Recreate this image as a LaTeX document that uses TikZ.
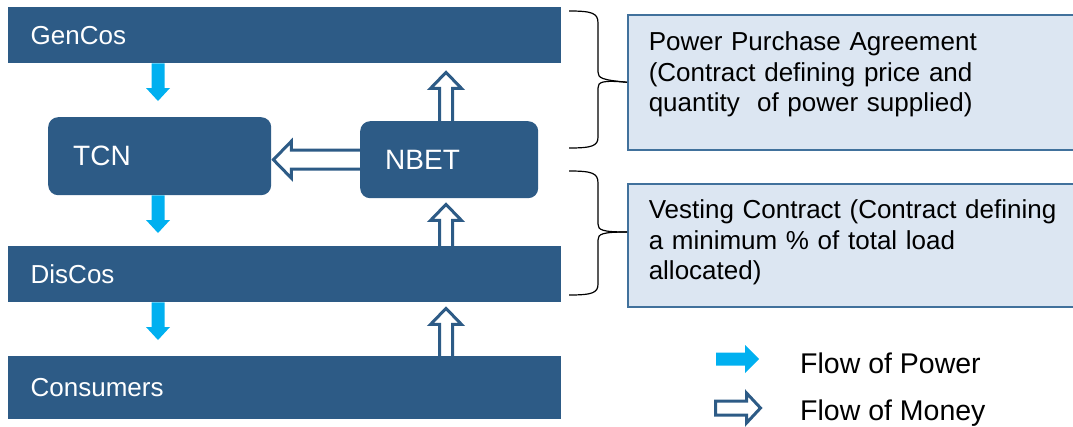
\documentclass[tikz,border=0pt]{standalone}
\usepackage{fontspec}
\setmainfont{Liberation Sans}
\usepackage{tikz}
\usetikzlibrary{calc,positioning}

\definecolor{barblue}{RGB}{45,91,134}
\definecolor{powercyan}{RGB}{0,176,240}
\definecolor{notefill}{RGB}{220,230,242}
\definecolor{noteedge}{RGB}{65,113,156}

\tikzset{
	bar/.style={fill=barblue, text=white, anchor=north west, minimum height=56pt, text width=507pt, inner xsep=23pt, align=left, font=\fontsize{26}{30}\selectfont},
	agency/.style={fill=barblue, text=white, anchor=north west, rounded corners=10pt, inner xsep=25pt, align=left, font=\fontsize{28}{32}\selectfont},
	note/.style={fill=notefill, draw=noteedge, line width=1.5pt, anchor=north west, inner xsep=21pt, inner ysep=0pt, text width=440pt, align=left, font=\fontsize{26}{30.5}\selectfont},
	legend text/.style={anchor=base west, inner sep=0pt, font=\fontsize{28.5}{32}\selectfont},
	power/.style={fill=powercyan, draw=none},
	money/.style={draw=barblue, fill=white, line width=3pt, line join=miter},
	brace line/.style={black, line width=1.2pt},
}

% block arrow: style, start, end, shaft half width, head half width, head length
\newcommand{\blockarrow}[6]{%
	\coordinate (ba-a) at (#2);
	\coordinate (ba-b) at (#3);
	\coordinate (ba-h) at ($(ba-b)!#6!(ba-a)$);
	\path[#1] ($(ba-a)!#4!90:(ba-b)$) -- ($(ba-h)!#4!-90:(ba-a)$) -- ($(ba-h)!#5!-90:(ba-a)$) -- (ba-b)
		-- ($(ba-h)!#5!90:(ba-a)$) -- ($(ba-h)!#4!90:(ba-a)$) -- ($(ba-a)!#4!-90:(ba-b)$) -- cycle;
}

\begin{document}
\begin{tikzpicture}[x=1pt, y=-1pt]
	\useasboundingbox (0,0) rectangle (1073,426);
	\clip (0,0) rectangle (1073,426);

	% Bars
	\node[bar] (gencos) at (7.5,7) {GenCos};
	\node[bar] (discos) at (7.5,246) {DisCos};
	\node[bar, minimum height=63pt] (consumers) at (7.5,356) {Consumers};

	% Agencies
	\node[agency, text width=173pt, minimum height=78pt] (tcn) at (48,117) {TCN};
	\node[agency, text width=128pt, minimum height=77pt] (nbet) at (360,121) {NBET};

	% Contracts
	\node[note, text height=36pt, text depth=99pt] (ppa) at (627,14)
		{Power Purchase Agreement\\(Contract defining price and\\quantity~ of power supplied)};
	\node[note, text height=35pt, text depth=88pt] (vesting) at (627,183)
		{Vesting Contract (Contract defining\\a minimum \% of total load\\allocated)};

	% Braces
	\draw[brace line] (569,11) .. controls (592,11) and (598,13) .. (598,23) -- (598,72)
		.. controls (598,78) and (602,80) .. (ppa.west);
	\draw[brace line] (ppa.west) .. controls (602,80) and (598,82) .. (598,88) -- (598,137)
		.. controls (598,146) and (592,148) .. (569,148);
	\draw[brace line] (569,171) .. controls (592,171) and (598,173) .. (598,183) -- (598,224)
		.. controls (598,230) and (602,232) .. (627,232);
	\draw[brace line] (627,232) .. controls (602,232) and (598,234) .. (598,240) -- (598,284)
		.. controls (598,293) and (592,295) .. (569,295);

	% Flow of power
	\coordinate (px) at (158,0);
	\blockarrow{power}{gencos.south -| px}{$(tcn.north -| px)+(0,-16)$}{6.5pt}{12pt}{13pt}
	\blockarrow{power}{tcn.south -| px}{$(discos.north -| px)+(0,-13)$}{6.5pt}{12pt}{13pt}
	\blockarrow{power}{discos.south -| px}{$(consumers.north -| px)+(0,-16)$}{6.5pt}{12pt}{13pt}

	% Flow of money
	\coordinate (mx) at (446,0);
	\blockarrow{money}{$(nbet.north -| mx)+(0,1.5)$}{$(gencos.south -| mx)+(0,9)$}{6.5pt}{15.5pt}{16pt}
	\blockarrow{money}{$(nbet.west)+(1.5,0)$}{$(tcn.east |- nbet.west)+(2,0)$}{9.5pt}{18.5pt}{18pt}
	\blockarrow{money}{$(discos.north -| mx)+(0,1.5)$}{$(nbet.south -| mx)+(0,6)$}{6.5pt}{15.5pt}{16pt}
	\blockarrow{money}{$(consumers.north -| mx)+(0,1.5)$}{$(discos.south -| mx)+(0,6)$}{6.5pt}{15.5pt}{16pt}

	% Legend
	\coordinate (legpow) at (716,359);
	\coordinate (legmon) at (715.5,408);
	\blockarrow{power}{legpow}{$(legpow)+(43,0)$}{6.5pt}{14pt}{14pt}
	\blockarrow{money}{legmon}{$(legmon)+(45,0)$}{7pt}{15pt}{14pt}
	\node[legend text] (powtext) at (800,373) {Flow of Power};
	\node[legend text] (montext) at (800,420) {Flow of Money};
\end{tikzpicture}
\end{document}
